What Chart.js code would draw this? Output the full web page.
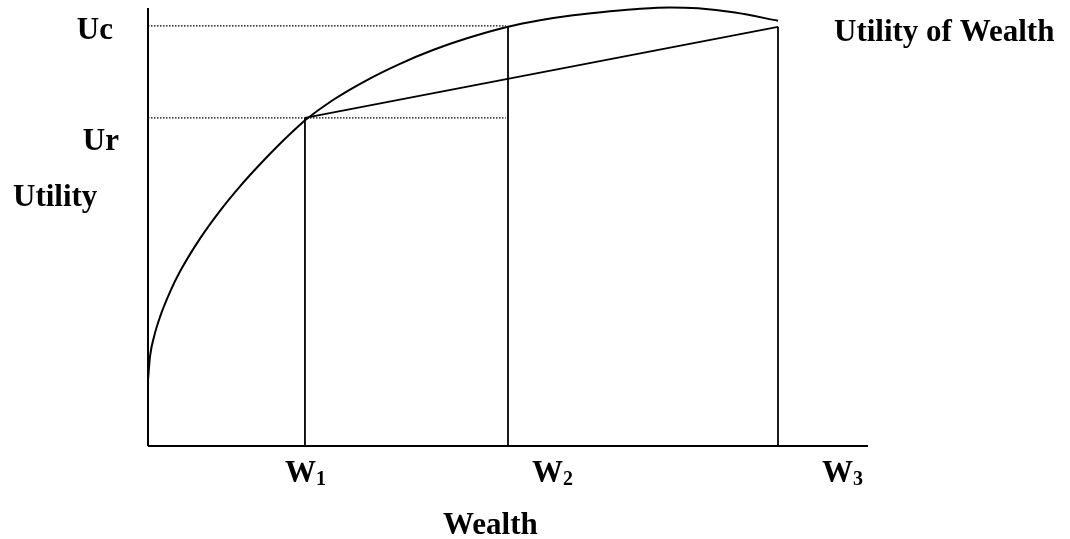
<!DOCTYPE html>
<html>
<head>
<meta charset="utf-8">
<title>Utility of Wealth</title>
<script src="https://cdn.jsdelivr.net/npm/chart.js@4.4.0/dist/chart.umd.min.js"></script>
<style>
  html, body { margin: 0; padding: 0; background: #ffffff; }
  #wrap { position: relative; width: 1070px; height: 539px; }
</style>
</head>
<body>
<div id="wrap"><canvas id="utilityChart"></canvas></div>
<script>
// Utility of wealth curve (concave)
const wealth = [0, 0.28, 0.83, 1.67, 3.06, 4.44, 7.22, 10.0, 12.78, 15.56, 18.33, 21.11, 21.81, 25.69, 30.42, 35.0, 39.58, 44.31, 50.0, 54.44, 59.03, 64.17, 68.33, 72.5, 76.39, 81.53, 87.5];
const utility = [15.07, 20.46, 24.91, 29.47, 35.18, 39.82, 47.35, 53.70, 59.29, 64.32, 69.00, 73.33, 74.36, 79.00, 83.56, 87.26, 90.41, 93.08, 95.71, 97.19, 98.33, 99.25, 99.84, 100.14, 99.93, 98.95, 97.10];

// Wealth levels W1, W2, W3 and utility levels Ur, Uc
const wealthLevels = [21.8, 50.0, 87.5];
const wealthNames = ['W', 'W', 'W'];
const wealthSubs = ['1', '2', '3'];
const utilityLevels = [74.9, 95.9];   // Ur, Uc
const utilityNames = ['Ur', 'Uc'];
const chordEndUtility = 95.7;           // utility at W3 on the straight line

const axisMax = 100;
const FONT = '"Liberation Serif", "Times New Roman", serif';

function pts(xs, ys) {
    return xs.map((x, i) => ({ x: x, y: ys[i] }));
}

function lineSet(data, extra) {
    return Object.assign({
        data: data,
        borderColor: '#000000',
        borderWidth: 2,
        pointRadius: 0,
        fill: false,
        tension: 0,
        clip: false
    }, extra || {});
}

const datasets = [
    // axes
    lineSet([{ x: 0, y: 0 }, { x: 0, y: axisMax }]),
    lineSet([{ x: 0, y: 0 }, { x: axisMax, y: 0 }]),
    // utility curve
    lineSet(pts(wealth, utility), { cubicInterpolationMode: 'monotone' }),
    // chord between W1 and W3
    lineSet([{ x: wealthLevels[0], y: utilityLevels[0] }, { x: wealthLevels[2], y: chordEndUtility }], { borderWidth: 1.8 }),
    // verticals
    lineSet([{ x: wealthLevels[0], y: 0 }, { x: wealthLevels[0], y: utilityLevels[0] }], { borderWidth: 1.8 }),
    lineSet([{ x: wealthLevels[1], y: 0 }, { x: wealthLevels[1], y: utilityLevels[1] }], { borderWidth: 1.8 }),
    lineSet([{ x: wealthLevels[2], y: 0 }, { x: wealthLevels[2], y: chordEndUtility }], { borderWidth: 1.8 }),
    // dotted guides for Ur and Uc
    lineSet([{ x: 0, y: utilityLevels[0] }, { x: wealthLevels[1] - 0.3, y: utilityLevels[0] }], { borderWidth: 1.3, borderDash: [1.5, 1.5] }),
    lineSet([{ x: 0, y: utilityLevels[1] }, { x: wealthLevels[1] - 0.3, y: utilityLevels[1] }], { borderWidth: 1.3, borderDash: [1.5, 1.5] })
];

// Text labels drawn around the plot
const labelPlugin = {
    id: 'utilityLabels',
    afterDraw(chart) {
        const ctx = chart.ctx;
        const xs = chart.scales.x;
        const ys = chart.scales.y;
        const left = xs.getPixelForValue(0);
        const bottom = ys.getPixelForValue(0);
        ctx.save();
        ctx.fillStyle = '#000000';
        ctx.textBaseline = 'alphabetic';
        ctx.font = 'bold 31px ' + FONT;

        // Uc and Ur, right aligned left of the axis
        ctx.textAlign = 'right';
        ctx.fillText(utilityNames[1], left - 35, ys.getPixelForValue(utilityLevels[1]) + 13);
        ctx.fillText(utilityNames[0], left - 29, ys.getPixelForValue(utilityLevels[0]) + 32);

        ctx.textAlign = 'left';
        ctx.fillText('Utility', 13, 206);
        ctx.fillText('Utility of Wealth', 834, 41);

        // W1, W2, W3 with subscripts
        const offsets = [-20, 24, 44];
        wealthLevels.forEach((w, i) => {
            const x0 = xs.getPixelForValue(w) + offsets[i];
            ctx.font = 'bold 31px ' + FONT;
            ctx.fillText(wealthNames[i], x0, bottom + 36);
            const ww = ctx.measureText(wealthNames[i]).width;
            ctx.font = 'bold 20px ' + FONT;
            ctx.fillText(wealthSubs[i], x0 + ww, bottom + 39);
        });

        ctx.font = 'bold 31px ' + FONT;
        ctx.textAlign = 'left';
        ctx.fillText('Wealth', 443, 534);
        ctx.restore();
    }
};

document.addEventListener('DOMContentLoaded', function() {
    const ctx = document.getElementById('utilityChart');
    new Chart(ctx, {
        type: 'line',
        data: { datasets: datasets },
        options: {
            responsive: true,
            maintainAspectRatio: false,
            animation: { duration: 0 },
            layout: { padding: { left: 148, right: 202, top: 8, bottom: 93 } },
            plugins: {
                legend: { display: false },
                tooltip: { enabled: false },
                title: { display: false }
            },
            scales: {
                x: { type: 'linear', min: 0, max: axisMax, display: false },
                y: { type: 'linear', min: 0, max: axisMax, display: false }
            }
        },
        plugins: [labelPlugin]
    });
});
</script>
</body>
</html>
